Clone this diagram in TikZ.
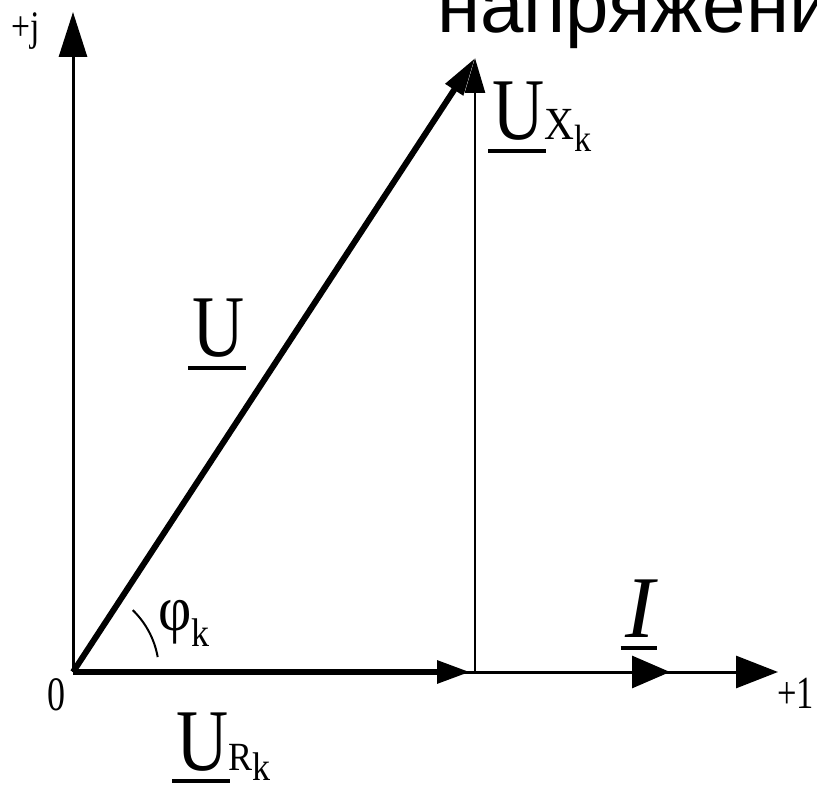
\documentclass[tikz,border=0pt]{standalone}
\usepackage{fontspec}
\setmainfont{Liberation Serif}
\newfontfamily\rusans{Liberation Sans}
\usetikzlibrary{arrows.meta}
\newcommand{\fs}[1]{\fontsize{#1}{#1}\selectfont}
\newcommand{\ulbox}[1]{\setbox0\hbox{#1}\rlap{\kern-0.05em\rule[-0.15em]{\dimexpr\wd0+0.08em\relax}{0.045em}}\box0}
\begin{document}
\begin{tikzpicture}[x=1pt,y=-1pt,
  lbl/.style={anchor=base west,inner sep=0pt,outer sep=0pt},
  axisln/.style={line width=3pt},
  thickvec/.style={line width=6pt}]
\useasboundingbox (0,0) rectangle (817,791);
\fill[white] (0,0) rectangle (817,791);
\clip (0,0) rectangle (817,791);
% title fragment
\node[lbl] (title) at (437,33) {\rusans\fs{78}напряжений};
% points
\coordinate (O) at (73,672);
\coordinate (Jtip) at (73,12);
\coordinate (Xtip) at (778,672);
\coordinate (Itip) at (670,672);
\coordinate (Rtip) at (470,672);
\coordinate (Rfoot) at (475,672);
\coordinate (Utip) at (475,58);
% axes
\draw[axisln,-{Triangle[length=45pt,width=28pt]}] (O) -- (Jtip);
\draw[axisln,-{Triangle[length=42pt,width=32pt]}] (O) -- (Xtip);
\draw[axisln,-{Triangle[length=38pt,width=32pt]}] (O) -- (Itip);
% vectors
\draw[thickvec,-{Triangle[length=33pt,width=22pt]}] (O) -- (Rtip);
\draw[line width=2.5pt,-{Triangle[length=35pt,width=20pt]}] (Rfoot) -- (Utip);
\draw[thickvec,-{Triangle[length=38pt,width=20pt]}] (O) -- (Utip);
% angle arc
\draw[line width=2pt] ([shift={(-10:86)}]O) arc[start angle=-10,end angle=-46,radius=86];
% labels
\node[lbl] (lj) at (12,41) {\scalebox{0.8}[1]{\fs{42}+j}};
\node[lbl] (l0) at (47,710) {\scalebox{0.75}[1]{\fs{48}0}};
\node[lbl] (l1) at (777,708) {\scalebox{0.75}[1]{\fs{46}+1}};
\node[lbl] (lU) at (192,357) {\scalebox{0.82}[1]{\fs{88}\ulbox{U}}};
\node[lbl] (lUX) at (492,140) {\scalebox{0.82}[1]{\fs{88}\ulbox{U}}\scalebox{0.9}[1]{\fs{46}X\raisebox{-12pt}{\fs{38}k}}};
\node[lbl] (lUR) at (176,770) {\scalebox{0.82}[1]{\fs{88}\ulbox{U}}\scalebox{0.9}[1]{\fs{40}R\raisebox{-10pt}{\fs{40}k}}};
\node[lbl] (lphi) at (158,630) {\scalebox{0.9}[1]{\fs{64}φ\raisebox{-16pt}{\fs{40}k}}};
\node[lbl] (lI) at (625,637) {\fs{88}\itshape\ulbox{I}};
\end{tikzpicture}
\end{document}
